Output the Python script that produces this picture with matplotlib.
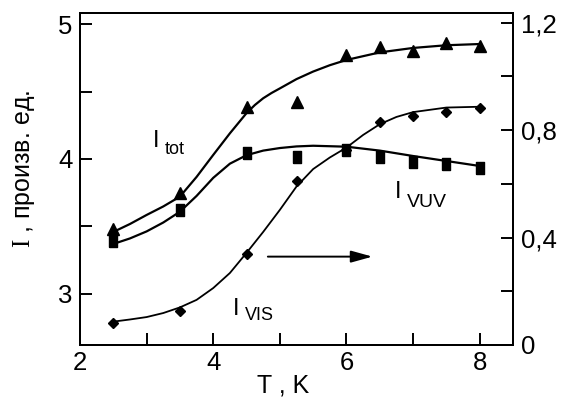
import matplotlib
matplotlib.use("Agg")
import matplotlib.pyplot as plt
from matplotlib.ticker import MultipleLocator, FuncFormatter

plt.rcParams['font.family'] = ['Liberation Sans', 'DejaVu Sans']
plt.rcParams['mathtext.fontset'] = 'custom'
plt.rcParams['mathtext.rm'] = 'Liberation Serif'

# измеренные точки (T, K)
T = [2.5, 3.5, 4.5, 5.25, 6, 6.5, 7, 7.5, 8]
I_tot = [3.479, 3.750, 4.388, 4.425, 4.771, 4.832, 4.803, 4.858, 4.840]
I_vuv = [3.394, 3.622, 4.047, 4.017, 4.067, 4.017, 3.980, 3.961, 3.936]
I_vis = [0.083, 0.127, 0.338, 0.611, 0.726, 0.831, 0.853, 0.869, 0.881]  # правая ось

# сглаживающие кривые
T_tot_fit = [2.5, 2.75, 3.0, 3.25, 3.5, 3.75, 4.0, 4.25, 4.5, 4.625, 4.75, 4.875, 5.0,
             5.25, 5.5, 5.75, 6.0, 6.5, 7.0, 7.5, 8.0]
I_tot_fit = [3.459, 3.518, 3.585, 3.648, 3.721, 3.867, 4.030, 4.190, 4.340, 4.400, 4.450,
             4.489, 4.523, 4.592, 4.648, 4.695, 4.734, 4.790, 4.823, 4.843, 4.852]

T_vuv_fit = [2.5, 2.75, 3.0, 3.25, 3.5, 3.75, 4.0, 4.25, 4.5, 4.75, 5.0, 5.25, 5.5,
             6.0, 6.5, 7.0, 7.5, 8.0]
I_vuv_fit = [3.370, 3.411, 3.463, 3.529, 3.609, 3.726, 3.860, 3.965, 4.028, 4.062, 4.081,
             4.093, 4.098, 4.091, 4.062, 4.022, 3.985, 3.948]

T_vis_fit = [2.5, 2.75, 3.0, 3.25, 3.5, 3.75, 4.0, 4.25, 4.5, 4.75, 5.0, 5.25, 5.5, 5.75,
             6.0, 6.25, 6.5, 6.75, 7.0, 7.5, 8.0]
I_vis_fit = [0.087, 0.095, 0.104, 0.119, 0.140, 0.168, 0.212, 0.268, 0.343, 0.421, 0.503,
             0.590, 0.655, 0.698, 0.735, 0.782, 0.822, 0.849, 0.867, 0.884, 0.887]

# прямоугольный маркер (чуть вытянут по вертикали)
rect = [(-0.36, -0.5), (0.36, -0.5), (0.36, 0.5), (-0.36, 0.5), (-0.36, -0.5)]

fig = plt.figure(figsize=(5.62, 4), dpi=100)
ax = fig.add_axes([80 / 562, 1 - 345 / 400, 433 / 562, 332 / 400])
ax2 = ax.twinx()

ax.plot(T_tot_fit, I_tot_fit, color='black', lw=1.6)
ax.plot(T_vuv_fit, I_vuv_fit, color='black', lw=1.6)
ax.plot(T, I_tot, ls='none', marker='^', ms=8.5, color='black')
ax.plot(T, I_vuv, ls='none', marker=rect, ms=8, color='black')

ax2.plot(T_vis_fit, I_vis_fit, color='black', lw=1.3)
ax2.plot(T, I_vis, ls='none', marker='D', ms=5.6, color='black')

ax.set_xlim(2, 8.5)
ax.set_ylim(2.621, 5.082)
ax2.set_ylim(0, 1.236)

ax.xaxis.set_major_locator(MultipleLocator(2))
ax.xaxis.set_minor_locator(MultipleLocator(1))
ax.yaxis.set_major_locator(MultipleLocator(1))
ax.yaxis.set_minor_locator(MultipleLocator(0.5))
ax2.yaxis.set_major_locator(MultipleLocator(0.4))
ax2.yaxis.set_minor_locator(MultipleLocator(0.2))
ax2.yaxis.set_major_formatter(FuncFormatter(lambda v, p: ('%g' % round(v, 2)).replace('.', ',')))

ax.tick_params(axis='both', which='both', direction='in', length=8.6, width=1.4,
               labelsize=18.5, pad=5.5, top=False, right=False)
ax.tick_params(axis='x', pad=4)
ax2.tick_params(axis='y', which='both', direction='in', length=8.6, width=1.4,
                labelsize=18.5, pad=5.5)
for a in (ax, ax2):
    for s in a.spines.values():
        s.set_linewidth(1.4)

# подписи кривых
ax.text(3.09, 4.089, 'I', fontsize=17, ha='left', va='baseline')
ax.text(3.27, 4.037, 'tot', fontsize=13, ha='left', va='baseline')
ax.text(6.72, 3.709, 'I', fontsize=17, ha='left', va='baseline')
ax.text(6.90, 3.646, 'VUV', fontsize=14, ha='left', va='baseline')
ax.text(4.294, 2.844, 'I', fontsize=17, ha='left', va='baseline')
ax.text(4.474, 2.807, 'VIS', fontsize=13, ha='left', va='baseline')

# стрелка к правой оси
ax2.annotate('', xy=(6.39, 0.329), xytext=(4.82, 0.329),
             arrowprops=dict(arrowstyle='-|>,head_length=1.3,head_width=0.36',
                             lw=1.4, color='black', shrinkA=0, shrinkB=0, mutation_scale=10))

fig.text(24 / 562, 1 - 169 / 400, r'$\mathrm{I}$ , произв. ед.', rotation=90,
         ha='center', va='center', fontsize=18)
fig.text(283.5 / 562, 1 - 386 / 400, 'T , K', ha='center', va='center', fontsize=18)

fig.savefig('out.png', dpi=100)
